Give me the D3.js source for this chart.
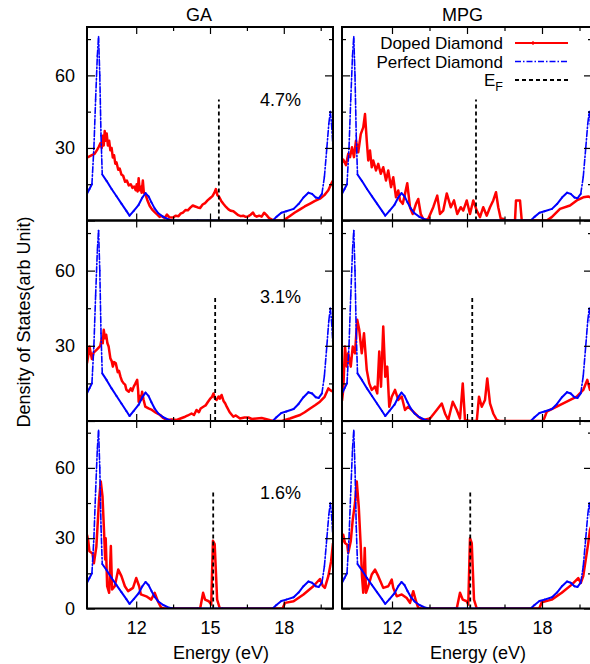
<!DOCTYPE html>
<html>
<head>
<meta charset="utf-8">
<script src="https://cdn.jsdelivr.net/npm/d3@7"></script>
<style>
    body { margin: 0; background: #fff; }
    svg { font-family: "Liberation Sans", Arial, sans-serif; }
</style>
</head>
<body>
<div id="chart"></div>
<script>
// ---- data ----
const panelTitles = ["GA", "MPG"];
const dopingLabels = ["4.7%", "3.1%", "1.6%"];
const energyMajor = [12, 15, 18];
const energyMinor = [13.5, 16.5, 19.5];
const dosMajor = [0, 30, 60];
const dosMinor = [15, 45, 75];
const fermiLevels = [15.36, 15.21, 15.13]; // one per doping row
const fermiHeight = 50;
const legendNames = ["Doped Diamond", "Perfect Diamond", "E"];

// perfect diamond DOS (same in every panel)
const perfectDiamond = [
    [10.0, 11], [10.1, 13], [10.2, 15], [10.28, 30], [10.35, 50], [10.42, 68], [10.47, 76],
    [10.52, 60], [10.57, 35], [10.62, 19], [10.8, 16.3], [11.0, 13], [11.2, 10], [11.4, 7],
    [11.6, 4], [11.73, 2], [11.9, 4], [12.1, 6.5], [12.25, 9.5], [12.38, 11.3], [12.5, 10],
    [12.62, 7.5], [12.75, 5], [12.9, 3], [13.1, 1.5], [13.35, 0.3], [13.5, 0], [14.5, 0],
    [15.5, 0], [16.5, 0], [17.55, 0], [17.7, 1.5], [17.9, 3.2], [18.1, 3.8], [18.4, 4.8],
    [18.6, 6.8], [18.8, 9.5], [19.0, 11.5], [19.15, 11], [19.3, 9.5], [19.42, 9.2], [19.55, 11],
    [19.65, 18], [19.75, 30], [19.83, 40], [19.89, 45], [19.94, 40], [20.0, 30]
];

// doped diamond, GA 4.7%
const dopedGA47 = [
    [10.0, 26], [10.1, 26.5], [10.2, 27], [10.3, 27.5], [10.4, 29], [10.48, 30.5], [10.55, 32],
    [10.6, 30], [10.64, 35], [10.68, 31], [10.72, 37], [10.76, 33], [10.8, 36], [10.85, 31],
    [10.9, 33], [10.95, 29], [11.0, 30], [11.05, 26], [11.1, 27], [11.15, 23.5], [11.2, 24],
    [11.27, 21], [11.33, 21.5], [11.4, 19], [11.47, 18.5], [11.55, 16], [11.62, 16.5], [11.7, 14.5],
    [11.78, 15], [11.85, 13.5], [11.92, 14], [11.98, 12.5], [12.02, 15], [12.06, 12], [12.1, 17.5],
    [12.14, 12.5], [12.18, 14], [12.22, 11.5], [12.27, 16.5], [12.31, 11.5], [12.37, 11], [12.45, 8.5],
    [12.55, 6], [12.65, 4.5], [12.75, 3.5], [12.85, 2.5], [12.95, 1.5], [13.05, 1.8], [13.15, 1.0],
    [13.25, 2.5], [13.35, 1.3], [13.5, 1.2], [13.6, 2], [13.72, 1.8], [13.8, 2.8], [13.9, 3.3],
    [14.0, 4.3], [14.1, 4.2], [14.2, 5.3], [14.3, 6.2], [14.4, 5.8], [14.5, 5.4], [14.6, 5.2],
    [14.7, 6.6], [14.8, 7.2], [14.9, 8.3], [15.0, 9.2], [15.1, 10.1], [15.18, 11.5], [15.24, 13],
    [15.3, 10.5], [15.37, 9.8], [15.45, 8.2], [15.55, 6.8], [15.65, 5.6], [15.75, 4.6], [15.85, 4.0],
    [15.95, 3.8], [16.05, 3.0], [16.15, 2.2], [16.25, 1.8], [16.35, 2.0], [16.45, 1.5], [16.55, 1.7],
    [16.65, 2.4], [16.75, 3.3], [16.82, 2.0], [16.9, 1.6], [17.0, 2.0], [17.1, 1.6], [17.2, 3.2],
    [17.3, 2.2], [17.4, 1.0], [17.5, 0.5], [17.6, 0], [18.0, 0], [18.1, 0.8], [18.25, 1.9],
    [18.45, 3.3], [18.66, 4.6], [18.85, 5.8], [19.07, 7], [19.25, 8], [19.47, 9], [19.65, 10.5],
    [19.81, 12.5], [19.92, 15], [20.0, 16.5]
];

// doped diamond, MPG 4.7%
const dopedMPG47 = [
    [10.0, 24], [10.05, 25.2], [10.16, 22.9], [10.25, 27.6], [10.32, 26.2], [10.4, 30.3], [10.48, 26.2],
    [10.56, 33], [10.65, 28.2], [10.75, 35.7], [10.85, 38.5], [10.92, 44], [10.99, 33], [11.05, 24.8],
    [11.12, 28.9], [11.19, 22], [11.25, 24.8], [11.36, 20.7], [11.45, 23.4], [11.55, 19.3], [11.65, 22],
    [11.76, 16.5], [11.85, 20.7], [11.96, 13.8], [12.05, 17.9], [12.16, 9.6], [12.25, 12.4], [12.32, 8.3],
    [12.43, 6.9], [12.52, 11], [12.61, 15.4], [12.72, 5.5], [12.83, 2.7], [12.96, 6.9], [13.05, 8.9],
    [13.15, 2.7], [13.28, 0], [13.45, 0.7], [13.65, 5.5], [13.81, 10.3], [13.92, 2.7], [14.05, 4.1],
    [14.19, 11.2], [14.35, 5.5], [14.48, 8.3], [14.61, 2.7], [14.75, 5.5], [14.85, 4.1], [14.99, 8.3],
    [15.12, 2.7], [15.25, 8.3], [15.39, 4.1], [15.52, 1.4], [15.65, 5.5], [15.79, 2], [15.92, 5.5],
    [16.05, 8.3], [16.16, 11.7], [16.25, 5.5], [16.35, 0.7], [16.45, 0.7], [16.52, 0], [16.92, 0],
    [16.96, 8.3], [17.12, 8.3], [17.19, 0], [18.19, 0], [18.39, 1.4], [18.72, 4.8], [19.12, 6.2],
    [19.39, 8.3], [19.65, 9.6], [19.85, 9.9], [20.0, 9.4]
];

// doped diamond, GA 3.1%
const dopedGA31 = [
    [10.0, 23], [10.05, 26], [10.1, 29.7], [10.2, 24.7], [10.27, 27.3], [10.4, 28.5], [10.54, 30],
    [10.6, 33], [10.64, 31], [10.68, 36.4], [10.73, 33], [10.78, 34.4], [10.83, 31], [10.88, 29.7],
    [10.95, 25], [11.0, 24], [11.05, 21.7], [11.1, 23.5], [11.17, 23], [11.25, 19.5], [11.3, 20],
    [11.36, 17.7], [11.42, 16], [11.49, 15], [11.55, 14.5], [11.6, 12.5], [11.7, 11.7], [11.78, 13],
    [11.84, 12], [11.9, 13.7], [11.96, 14.8], [12.04, 16.4], [12.08, 12], [12.1, 7.7], [12.15, 10],
    [12.2, 8.5], [12.24, 11.7], [12.3, 8.5], [12.37, 5.7], [12.5, 5], [12.64, 4.4], [12.8, 3.3],
    [12.97, 2.4], [13.1, 1.2], [13.24, 0.4], [13.45, 0.6], [13.65, 0.4], [13.8, 1.0], [13.99, 1.7],
    [14.1, 2.2], [14.25, 3], [14.35, 2.4], [14.45, 4.4], [14.55, 3.5], [14.62, 5.0], [14.73, 5.7],
    [14.82, 6.2], [14.92, 7.7], [15.0, 8.8], [15.08, 9.6], [15.14, 11], [15.2, 9], [15.27, 8.4],
    [15.35, 9.8], [15.4, 8.9], [15.47, 10.4], [15.55, 8], [15.62, 7], [15.68, 5.7], [15.8, 3.5],
    [15.95, 1.7], [16.05, 2.2], [16.22, 1], [16.4, 1.4], [16.56, 1.4], [16.7, 0.8], [16.9, 1],
    [17.1, 1.2], [17.3, 0.7], [17.45, 0.3], [17.58, 0], [17.92, 0], [18.05, 0.4], [18.25, 1],
    [18.45, 1.7], [18.66, 2.4], [18.85, 3.5], [19.07, 5], [19.27, 6.3], [19.47, 7.7], [19.65, 9.5],
    [19.81, 13], [19.9, 12.2], [20.0, 11.7]
];

// doped diamond, MPG 3.1%
const dopedMPG31 = [
    [10.0, 8], [10.05, 12.4], [10.12, 29.7], [10.19, 21.7], [10.25, 27], [10.35, 21.7], [10.43, 29.7],
    [10.52, 27], [10.61, 40.4], [10.69, 36.4], [10.79, 27], [10.88, 35], [10.99, 20.4], [11.09, 15],
    [11.19, 12.4], [11.32, 13.7], [11.41, 11], [11.49, 27.7], [11.56, 13.7], [11.65, 37.7], [11.73, 17.7],
    [11.81, 21.7], [11.89, 5.7], [11.99, 9.7], [12.12, 12.4], [12.25, 8.4], [12.39, 9.7], [12.52, 4.4],
    [12.65, 5.7], [12.85, 3.7], [13.05, 1.7], [13.25, 0.4], [13.52, 1], [13.79, 4.4], [13.99, 7],
    [14.12, 3], [14.25, 0.4], [14.43, 7.7], [14.59, 4.4], [14.72, 1], [14.83, 15], [14.92, 0.4],
    [15.12, 0], [15.39, 0], [15.48, 9.7], [15.59, 5.7], [15.72, 8.4], [15.81, 17], [15.92, 7],
    [16.05, 3], [16.19, 0.4], [16.3, 0], [18.05, 0], [18.19, 3.7], [18.59, 5.7], [18.99, 7.7],
    [19.39, 9.7], [19.65, 12.4], [19.81, 16.4], [19.92, 12.4], [20.0, 12]
];

// doped diamond, GA 1.6%
const dopedGA16 = [
    [10.0, 31.5], [10.05, 29], [10.1, 24.4], [10.22, 23.5], [10.28, 19.3], [10.38, 26.3], [10.49, 46.4],
    [10.56, 54.2], [10.63, 47.8], [10.69, 33.6], [10.74, 20.9], [10.76, 30], [10.82, 9.5], [10.9, 6.7],
    [10.97, 26.7], [11.02, 8.1], [11.13, 9.5], [11.27, 16.6], [11.4, 13.8], [11.54, 9.5], [11.67, 7.4],
    [11.87, 8.8], [12.0, 13], [12.12, 9.5], [12.19, 6], [12.41, 5.2], [12.61, 3.8], [12.75, 6.7],
    [12.88, 3.1], [13.02, 0.3], [13.15, 0], [14.6, 0], [14.72, 6.7], [14.8, 3.8], [14.95, 3.1],
    [15.05, 1.7], [15.12, 28.9], [15.19, 27.5], [15.29, 3.8], [15.4, 0], [17.95, 0], [18.05, 2.4],
    [18.4, 3.1], [18.8, 6], [19.2, 9.5], [19.47, 12.6], [19.58, 9.8], [19.67, 8.8], [19.81, 13.8],
    [19.92, 20], [20.0, 27.9]
];

// doped diamond, MPG 1.6%
const dopedMPG16 = [
    [10.0, 28], [10.05, 31.5], [10.12, 27.9], [10.21, 27.2], [10.25, 23.7], [10.35, 28.7], [10.43, 37.9],
    [10.52, 45], [10.59, 54.2], [10.67, 43.5], [10.75, 26.5], [10.8, 13.8], [10.85, 6.7], [10.91, 25.8],
    [10.96, 6.7], [11.05, 9.5], [11.19, 14.5], [11.32, 16.6], [11.45, 13.8], [11.65, 8.8], [11.85, 9.5],
    [11.99, 12.3], [12.05, 8.8], [12.19, 5.2], [12.39, 6], [12.59, 4.5], [12.72, 2.4], [12.85, 7.4],
    [12.96, 3.1], [13.05, 0.3], [13.15, 0], [14.59, 0], [14.72, 6.7], [14.83, 3.8], [14.99, 3.1],
    [15.05, 1.7], [15.12, 30], [15.19, 27.9], [15.28, 3.8], [15.39, 0], [17.89, 0], [17.99, 2.7],
    [18.39, 3.8], [18.79, 6.7], [19.19, 10.2], [19.45, 13], [19.55, 10.9], [19.65, 13.8], [19.85, 27.9],
    [19.92, 33.6], [20.0, 36]
];

const dopedRows = [
    [dopedGA47, dopedMPG47],
    [dopedGA31, dopedMPG31],
    [dopedGA16, dopedMPG16]
];

// ---- layout ----
const width = 590, height = 664;
const cols = [{x0: 87, x1: 333}, {x0: 342, x1: 592}];
const rows = [{y0: 27, y1: 220.5}, {y0: 220.5, y1: 421}, {y0: 421, y1: 608.5}];
const fontSize = 18;
const red = "#ff0000", blue = "#0000ff";
const dashDot = "6,2,1.5,2";

const svg = d3.select("#chart").append("svg")
    .attr("width", width)
    .attr("height", height)
    .style("font-size", fontSize + "px");

const defs = svg.append("defs");

function drawPanel(r, c) {
    const {x0, x1} = cols[c];
    const {y0, y1} = rows[r];
    const x = d3.scaleLinear().domain([10, 20]).range([x0, x1]);
    const y = d3.scaleLinear().domain([0, 80]).range([y1, y0]);
    const g = svg.append("g");

    const clipId = "clip-" + r + "-" + c;
    defs.append("clipPath").attr("id", clipId)
        .append("rect").attr("x", x0).attr("y", y0).attr("width", x1 - x0).attr("height", y1 - y0);

    const plot = g.append("g").attr("clip-path", `url(#${clipId})`);
    const line = d3.line().x(d => x(d[0])).y(d => y(d[1]));

    // doped diamond (red)
    plot.append("path")
        .datum(dopedRows[r][c])
        .attr("d", line)
        .attr("fill", "none")
        .attr("stroke", red)
        .attr("stroke-width", 2.5)
        .attr("stroke-linejoin", "round");

    // perfect diamond: dash pattern restarts on every segment, so steep parts show dash-dot
    const segs = d3.pairs(perfectDiamond);
    plot.selectAll(".pd").data(segs).enter().append("line")
        .attr("x1", d => x(d[0][0])).attr("y1", d => y(d[0][1]))
        .attr("x2", d => x(d[1][0])).attr("y2", d => y(d[1][1]))
        .attr("stroke", blue)
        .attr("stroke-width", d => isSteep(d) ? 1.6 : 2)
        .attr("stroke-linecap", "round")
        .attr("stroke-dasharray", d => isSteep(d) ? dashDot : null);

    function isSteep(d) {
        const dx = Math.abs(x(d[1][0]) - x(d[0][0]));
        const dy = Math.abs(y(d[1][1]) - y(d[0][1]));
        return dy > 2.5 * dx && dy > 10;
    }

    // fermi level
    plot.append("line")
        .attr("x1", x(fermiLevels[r])).attr("x2", x(fermiLevels[r]))
        .attr("y1", y(0)).attr("y2", y(fermiHeight))
        .attr("stroke", "#000")
        .attr("stroke-width", 1.8)
        .attr("stroke-dasharray", "4,3");

    // axes, ticks pointing inward
    const yFmt = d => (c === 0 && (d !== 0 || r === 2)) ? d : "";
    g.append("g").attr("transform", `translate(${x0},0)`)
        .call(d3.axisLeft(y).tickValues(dosMajor).tickSize(-8).tickPadding(12).tickFormat(yFmt));
    g.append("g").attr("transform", `translate(${x0},0)`)
        .call(d3.axisLeft(y).tickValues(dosMinor).tickSize(-4).tickFormat(""));
    g.append("g").attr("transform", `translate(${x1},0)`)
        .call(d3.axisRight(y).tickValues(dosMajor).tickSize(-8).tickFormat(""));
    g.append("g").attr("transform", `translate(${x1},0)`)
        .call(d3.axisRight(y).tickValues(dosMinor).tickSize(-4).tickFormat(""));

    const xFmt = d => r === 2 ? d : "";
    g.append("g").attr("transform", `translate(0,${y1})`)
        .call(d3.axisBottom(x).tickValues(energyMajor).tickSize(-7).tickPadding(13).tickFormat(xFmt));
    g.append("g").attr("transform", `translate(0,${y1})`)
        .call(d3.axisBottom(x).tickValues(energyMinor).tickSize(-4).tickFormat(""));
    g.append("g").attr("transform", `translate(0,${y0})`)
        .call(d3.axisTop(x).tickValues(energyMajor).tickSize(-7).tickFormat(""));
    g.append("g").attr("transform", `translate(0,${y0})`)
        .call(d3.axisTop(x).tickValues(energyMinor).tickSize(-4).tickFormat(""));

    g.selectAll(".domain").remove();
    g.selectAll(".tick line").attr("stroke", "#000").attr("stroke-width", 1.2);
    g.selectAll(".tick text")
        .attr("font-family", "Liberation Sans, Arial, sans-serif")
        .attr("font-size", fontSize)
        .attr("fill", "#000");

    // frame
    g.append("rect")
        .attr("x", x0).attr("y", y0)
        .attr("width", x1 - x0).attr("height", y1 - y0)
        .attr("fill", "none")
        .attr("stroke", "#000")
        .attr("stroke-width", 2);

    if (c === 0) {
        g.append("text")
            .attr("x", 260)
            .attr("y", y0 + (r === 0 ? 79 : r === 1 ? 82 : 78))
            .text(dopingLabels[r]);
    }
}

for (let r = 0; r < rows.length; r++) {
    for (let c = 0; c < cols.length; c++) {
        drawPanel(r, c);
    }
}

// column titles and x labels
const titleX = [199, 462.5];
const xLabelX = [221, 478];
panelTitles.forEach((t, i) => {
    svg.append("text").attr("x", titleX[i]).attr("y", 20.5)
        .attr("text-anchor", "middle").text(t);
    svg.append("text").attr("x", xLabelX[i]).attr("y", 659)
        .attr("text-anchor", "middle").text("Energy (eV)");
});

// y label
svg.append("text")
    .attr("transform", "translate(30,322) rotate(-90)")
    .attr("text-anchor", "middle")
    .text("Density of States(arb Unit)");

// legend
const legend = svg.append("g").style("font-size", "17px");
const legendY = [49, 67.5, 86];
const legendStyles = [
    {stroke: red, width: 2.2, dash: null},
    {stroke: blue, width: 1.6, dash: dashDot},
    {stroke: "#000", width: 1.8, dash: "4,3"}
];
legendNames.forEach((name, i) => {
    const t = legend.append("text")
        .attr("x", 503).attr("y", legendY[i])
        .attr("text-anchor", "end")
        .text(name);
    if (i === 2) {
        t.append("tspan").attr("dy", 5).attr("font-size", 12.5).text("F");
    }
    legend.append("line")
        .attr("x1", 515).attr("x2", 568)
        .attr("y1", legendY[i] - 6).attr("y2", legendY[i] - 6)
        .attr("stroke", legendStyles[i].stroke)
        .attr("stroke-width", legendStyles[i].width)
        .attr("stroke-dasharray", legendStyles[i].dash);
});
legend.append("line")
    .attr("x1", 533).attr("x2", 533)
    .attr("y1", legendY[0] - 8).attr("y2", legendY[0] - 4)
    .attr("stroke", red).attr("stroke-width", 1.2);
</script>
</body>
</html>
